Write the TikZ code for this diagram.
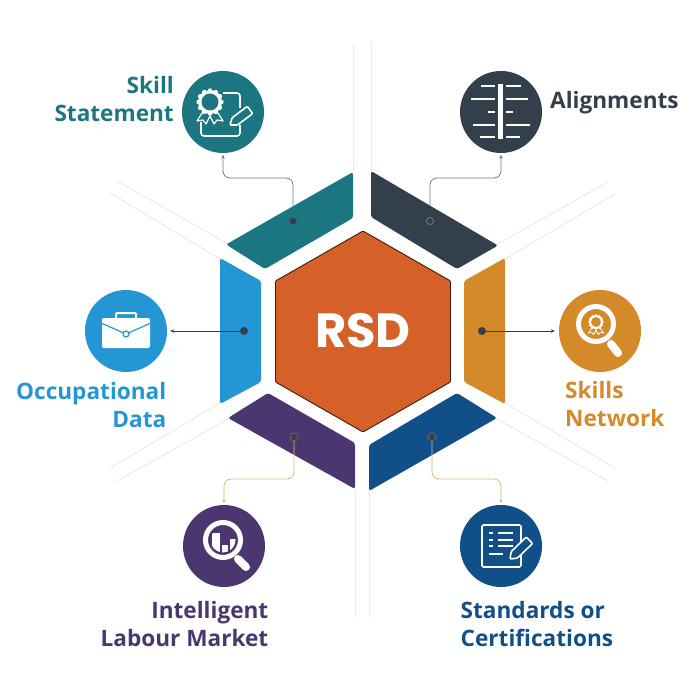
\documentclass[tikz,border=0pt]{standalone}
\usepackage{fontspec}
\usetikzlibrary{arrows.meta}
\setmainfont{Open Sans}
\newfontfamily\rsdfont{Poppins}
\definecolor{tealc}{HTML}{1B7682}
\definecolor{slatec}{HTML}{333F4B}
\definecolor{bluec}{HTML}{2596D4}
\definecolor{amberc}{HTML}{D58A2A}
\definecolor{purplec}{HTML}{4C366F}
\definecolor{navyc}{HTML}{114F88}
\definecolor{hexc}{HTML}{D66128}
\definecolor{tanc}{HTML}{E0B680}
\definecolor{guidec}{HTML}{EAEAEA}
\tikzset{
    guide/.style={guidec, line width=1},
    segment/.style={rounded corners=2.5},
    disc/.style={circle, minimum size=82, inner sep=0},
    dot/.style={circle, minimum size=8, inner sep=0, fill=slatec},
    link/.style={-{Stealth[length=4,width=3.5]}, line width=0.8, rounded corners=7, shorten >=1.5},
    caption/.style={font=\fontsize{22.6}{28}\selectfont\bfseries, inner sep=0},
}
% gear with ribbons: x, y, scale, fill
\newcommand{\gearbadge}[5]{
    \begin{scope}[shift={(#1,#2)}, scale=#3]
        \draw[white, line width=#5, fill=#4, line join=round] (-6,8) -- (-13,19) -- (-7,18) -- (-4,22) -- (0,14) -- (4,22) -- (7,18) -- (13,19) -- (6,8) -- cycle;
        \foreach \a in {0,30,...,330}
            \fill[white] (\a:11.5) circle (2.2);
        \fill[white] (0,0) circle (12);
        \fill[#4] (0,0) circle (8.5);
    \end{scope}
}
% pen: x, y of the tip, angle, length, fill
\newcommand{\penshape}[5]{
    \draw[white, line width=1.6, fill=#5, rounded corners=1, shift={(#1,#2)}, rotate=#3] (0,0) -- (6,-4.5) -- (#4,-4.5) -- (#4,4.5) -- (6,4.5) -- cycle;
}
\begin{document}
\begin{tikzpicture}[x=1pt, y=-1pt]
\useasboundingbox (0,0) rectangle (700,700);
% Guide lines
    \draw[guide] (353,45) -- (353,173);
    \draw[guide] (371,42) -- (371,172);
    \draw[guide] (355.5,490) -- (355.5,617);
    \draw[guide] (369,490) -- (369,617);
    \draw[guide] (117,181) -- (228,244);
    \draw[guide] (110,193) -- (220,259);
    \draw[guide] (608,182) -- (496,245);
    \draw[guide] (615,194) -- (505,259);
    \draw[guide] (110,468) -- (220,403);
    \draw[guide] (117,481) -- (230,418);
    \draw[guide] (615,468) -- (505,403);
    \draw[guide] (608,481) -- (495,418);
% Segments
    \fill[tealc, segment] (353,172) -- (353,218) -- (265,269) -- (226,244.5) -- cycle;
    \fill[slatec, segment] (371,171) -- (498,245.5) -- (457,269) -- (371,217) -- cycle;
    \fill[bluec, segment] (220,258) -- (261,281) -- (261,382) -- (220,404) -- cycle;
    \fill[amberc, segment] (505,258) -- (505,404) -- (464,382) -- (464,281) -- cycle;
    \fill[purplec, segment] (228,418) -- (268,393) -- (355,443) -- (355,489) -- cycle;
    \fill[navyc, segment] (369,445) -- (457,393) -- (497,418) -- (369,491) -- cycle;
% Hexagon
    \draw[hexc!30!black, fill=hexc, line width=0.9, rounded corners=1] (363,231) -- (450.5,281) -- (450.5,382) -- (363,432) -- (275.5,382) -- (275.5,281) -- cycle;
    \node[white, font=\rsdfont\fontsize{48}{48}\selectfont\bfseries, inner sep=0] (rsd) at (363,331) {RSD};
% Discs
    \node[disc, fill=tealc] (discskill) at (223,112) {};
    \node[disc, fill=slatec] (discalign) at (501,112) {};
    \node[disc, fill=bluec] (discocc) at (126,331) {};
    \node[disc, fill=amberc] (discnet) at (600,331) {};
    \node[disc, fill=purplec] (disclabour) at (224,546) {};
    \node[disc, fill=navyc] (discstd) at (501,546) {};
% Dots
    \node[dot, minimum size=7] (dotskill) at (293,221) {};
    \node[circle, minimum size=7, inner sep=0, draw=tanc!70!slatec, line width=0.5] (dotalign) at (430,221) {};
    \node[dot] (dotocc) at (244,331) {};
    \node[dot] (dotnet) at (482,331) {};
    \node[dot, draw=tanc!60!slatec, line width=0.4] (dotlabour) at (294,437) {};
    \node[dot, draw=tanc!60!slatec, line width=0.4] (dotstd) at (432,437) {};
% Connectors
    \coordinate (edgeskill) at (293,207);
    \coordinate (edgealign) at (430,206);
    \coordinate (bendskill) at (260,178);
    \coordinate (bendalign) at (460,178);
    \coordinate (bendlabour) at (260,479);
    \coordinate (bendstd) at (460,479);
    \draw[link, slatec!70] (edgeskill) |- (bendskill) -| (discskill);
    \draw[link, slatec!70] (edgealign) |- (bendalign) -| (discalign);
    \draw[link, slatec, shorten >=3] (dotocc) -- (discocc);
    \draw[link, slatec, shorten >=4] (dotnet) -- (discnet);
    \draw[link, tanc] (dotlabour) |- (bendlabour) -| (disclabour);
    \draw[link, tanc] (dotstd) |- (bendstd) -| (discstd);
% Skill icon
    \draw[white, line width=1.6, rounded corners=3] (223,93) -- (240,93) -- (240,108);
    \draw[white, line width=1.6, rounded corners=3] (240,125) -- (240,136) -- (201,136) -- (201,122);
    \gearbadge{210}{102}{1}{tealc}{1.2}
    \penshape{230}{125}{37}{25}{tealc}
% Alignment icon
    \fill[white] (498,84) rectangle (503,139);
    \foreach \y/\l/\r in {86/481/521, 99/471/528, 112/488/513, 125/473/530, 137/480/520} {
        \fill[white] (\l,\y-1.4) rectangle (495,\y+1.4);
        \fill[white] (506,\y-1.4) rectangle (\r,\y+1.4);
    }
% Briefcase icon
    \draw[white, line width=2, rounded corners=1] (116,318) -- (116,313) -- (136,313) -- (136,318);
    \fill[white, rounded corners=2] (102,318) rectangle (150,348);
    \draw[bluec, line width=1.2] (101,323) -- (126,334) -- (151,323);
    \draw[bluec, fill=white, line width=1.2] (126,334) circle (3);
% Network icon
    \gearbadge{596}{322}{0.58}{amberc}{0.8}
    \draw[white, line width=5] (596,324) circle (17.5);
    \draw[white, line width=8, line cap=round] (611,344) -- (618,353);
% Labour icon
    \begin{scope}
        \clip (223,540) circle (12.5);
        \fill[white] (212,533) rectangle (220,560);
        \fill[white] (221.5,545) rectangle (228,560);
        \fill[white] (229.5,539) rectangle (238,560);
    \end{scope}
    \draw[white, line width=5] (223,540) circle (17.5);
    \draw[white, line width=8, line cap=round] (238,559) -- (246,567);
% Standards icon
    \draw[white, line width=1.6, rounded corners=1.5] (482,525) rectangle (521,567);
    \foreach \y in {533,540,546} {
        \fill[white] (489,\y-1) rectangle (493,\y+1);
        \fill[white] (498,\y-1) rectangle (513,\y+1);
    }
    \fill[white] (489,552.5) rectangle (503,554.5);
    \penshape{510}{559}{44}{27}{navyc}
% Labels
    \node[caption, tealc, align=right, anchor=east] (skilltext) at (174,99) {Skill\\Statement};
    \node[caption, slatec, anchor=base west] (aligntext) at (550,108.5) {Alignments};
    \node[caption, bluec, align=right, anchor=east] (occtext) at (166.5,405) {Occupational\\Data};
    \node[caption, amberc, align=left, anchor=west] (nettext) at (565,404) {Skills\\Network};
    \node[caption, purplec, align=right, anchor=east] (labourtext) at (268.5,624) {Intelligent\\Labour Market};
    \node[caption, navyc, align=left, anchor=west] (stdtext) at (460.5,624) {Standards or\\Certifications};
\end{tikzpicture}
\end{document}
